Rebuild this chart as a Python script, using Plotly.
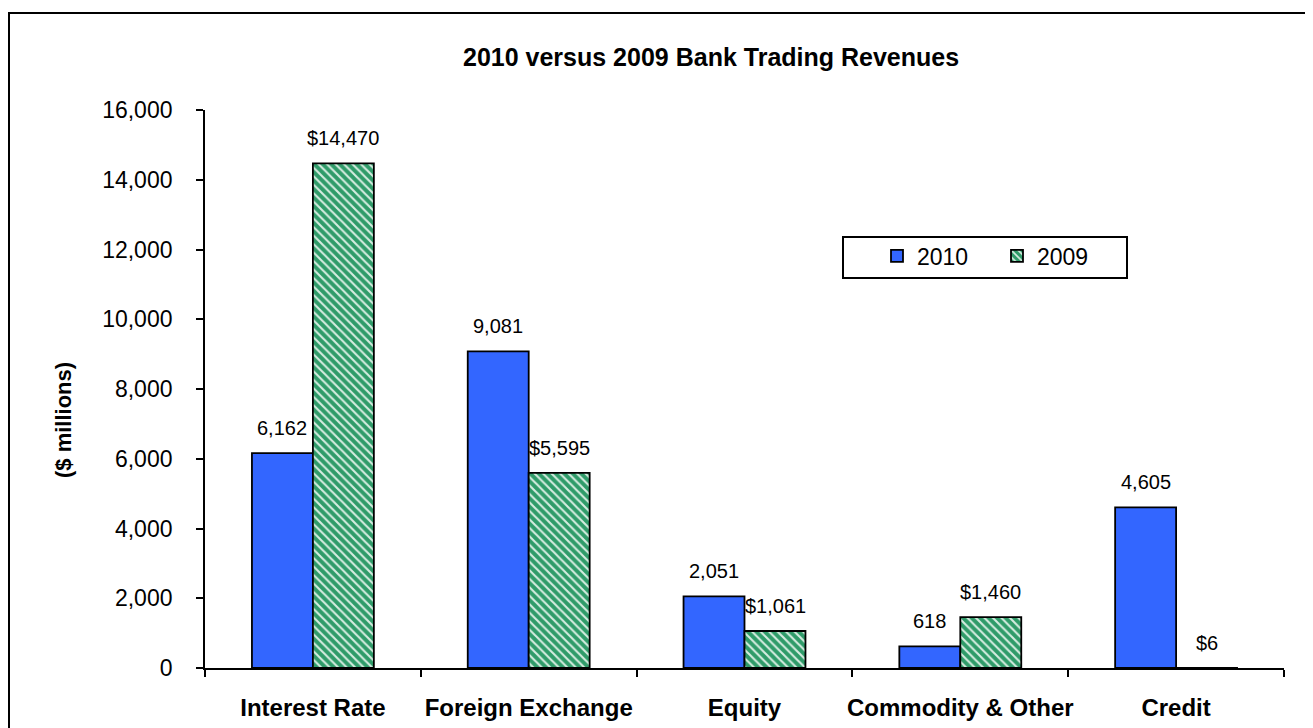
import plotly.graph_objects as go

categories = ["Interest Rate", "Foreign Exchange", "Equity", "Commodity & Other", "Credit"]
rev_2010 = [6162, 9081, 2051, 618, 4605]
rev_2009 = [14470, 5595, 1061, 1460, 6]
labels_2010 = ["6,162", "9,081", "2,051", "618", "4,605"]
labels_2009 = ["$14,470", "$5,595", "$1,061", "$1,460", "$6"]
y_ticks = [0, 2000, 4000, 6000, 8000, 10000, 12000, 14000, 16000]

FONT = "Arial, Liberation Sans, sans-serif"
BLUE = "#3366FF"
GREEN = "#2F9B69"

# plot area in page pixels (page has an 8px body margin)
PL, PR, PT, PB = 205, 1284, 110, 668
W, H = 1305, 720


def px(x):
    return (x - PL) / (PR - PL)


def py(y):
    return (PB - y) / (PB - PT)


fig = go.Figure()
fig.add_trace(go.Bar(
    x=categories, y=rev_2010, name="2010",
    marker=dict(color=BLUE, line=dict(color="black", width=1.8)),
))
fig.add_trace(go.Bar(
    x=categories, y=rev_2009, name="2009",
    marker=dict(color=GREEN, line=dict(color="black", width=1.8),
                pattern=dict(shape="\\", fgcolor="#E8F5EE", bgcolor=GREEN,
                             size=6, solidity=0.35, fgopacity=0.9)),
))

annotations = []
for c, v, t in zip(categories, rev_2010, labels_2010):
    annotations.append(dict(x=c, y=v, text=t, showarrow=False, xshift=-30.5, yshift=25,
                            font=dict(family=FONT, size=20, color="black")))
for c, v, t in zip(categories, rev_2009, labels_2009):
    annotations.append(dict(x=c, y=v, text=t, showarrow=False, xshift=30.5, yshift=25,
                            font=dict(family=FONT, size=20, color="black")))
annotations.append(dict(xref="paper", yref="paper", x=px(63), y=py(420), text="<b>($ millions)</b>",
                        showarrow=False, textangle=-90, xanchor="center", yanchor="middle",
                        font=dict(family=FONT, size=22, color="black")))
annotations.append(dict(xref="paper", yref="paper", x=px(711), y=py(57), xanchor="center",
                        yanchor="middle", text="<b>2010 versus 2009 Bank Trading Revenues</b>",
                        showarrow=False, font=dict(family=FONT, size=25, color="black")))

fig.update_layout(
    width=W, height=H,
    margin=dict(l=PL - 8, r=W - (PR - 8), t=PT - 8, b=H - (PB - 8)),
    paper_bgcolor="white", plot_bgcolor="white",
    barmode="group", bargap=0.435, bargroupgap=0,
    font=dict(family=FONT, size=22, color="black"),
    showlegend=True,
    legend=dict(orientation="h", x=px(877), y=py(256), xanchor="left", yanchor="middle",
                borderwidth=0, bgcolor="rgba(0,0,0,0)",
                font=dict(family=FONT, size=23), entrywidth=75, itemwidth=30),
    annotations=annotations,
    shapes=[
        dict(type="rect", xref="paper", yref="paper",
             x0=px(9), x1=1.3, y0=-0.3, y1=py(13),
             line=dict(color="black", width=2), fillcolor="rgba(0,0,0,0)", layer="below"),
        dict(type="rect", xref="paper", yref="paper",
             x0=px(843), x1=px(1127), y0=py(278), y1=py(237),
             line=dict(color="black", width=2), fillcolor="white", layer="above"),
    ],
)
fig.update_xaxes(showline=True, linecolor="black", linewidth=1.8, showgrid=False,
                 ticks="outside", tickson="boundaries", ticklen=7, tickcolor="black", tickwidth=1.8,
                 tickfont=dict(family=FONT, size=24), ticklabelstandoff=17, tickangle=0,
                 automargin=False, tickprefix="<b>", ticksuffix="</b>")
fig.update_yaxes(range=[0, 16000], tickvals=y_ticks, tickformat=",", showline=True,
                 linecolor="black", linewidth=1.8, showgrid=False, zeroline=False,
                 ticks="outside", ticklen=7, tickcolor="black", tickwidth=1.8, automargin=False,
                 tickfont=dict(family=FONT, size=23), ticklabelstandoff=19)

fig.write_html("out.html")
